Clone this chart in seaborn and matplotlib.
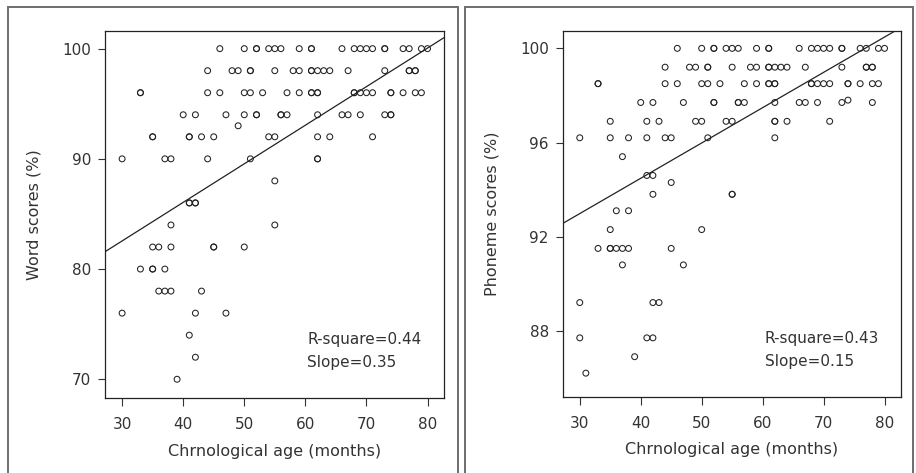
import numpy as np
import pandas as pd
import seaborn as sns
import matplotlib
matplotlib.use('Agg')
import matplotlib.pyplot as plt
from matplotlib.patches import Rectangle

# --- Word scores ---
word_age = [46, 50, 52, 52, 54, 55, 56, 59, 61, 61, 66, 68, 69, 70, 71, 73, 73, 76, 77, 79, 80,
            44, 48, 49, 51, 51, 55, 58, 59, 61, 61, 62, 63, 64, 67, 73, 77, 77, 78, 78,
            33, 33, 44, 46, 50, 51, 53, 57, 59, 61, 61, 62, 62, 68, 68, 69, 70, 71, 74, 74, 76, 78, 79,
            40, 42, 47, 50, 52, 52, 56, 56, 57, 62, 66, 67, 69, 73, 74, 74,
            49,
            35, 35, 41, 41, 43, 45, 54, 55, 62, 64, 71,
            30, 37, 38, 44, 51, 62, 62,
            55,
            41, 41, 42, 42,
            38, 55,
            35, 36, 38, 45, 45, 50,
            33, 35, 35, 37,
            36, 37, 38, 43,
            30, 42, 47,
            41, 42, 39]
word_score = [100] * 21 + [98] * 19 + [96] * 23 + [94] * 16 + [93] + [92] * 11 + [90] * 7 + \
             [88] + [86] * 4 + [84] * 2 + [82] * 6 + [80] * 4 + [78] * 4 + [76] * 3 + [74, 72, 70]

# --- Phoneme scores ---
phon_age = [46, 50, 52, 52, 54, 55, 56, 59, 61, 61, 66, 68, 69, 70, 71, 73, 73, 76, 77, 79, 80,
            44, 48, 49, 51, 51, 55, 58, 59, 61, 61, 62, 63, 64, 67, 73, 77, 77, 78, 78,
            33, 33, 44, 46, 50, 51, 53, 57, 59, 61, 61, 62, 62, 68, 68, 69, 70, 71, 74, 74, 76, 78, 79,
            40, 42, 47, 52, 52, 56, 56, 57, 62, 66, 67, 69, 73, 78, 74,
            35, 41, 43, 49, 50, 54, 55, 62, 62, 64, 71,
            30, 35, 38, 41, 44, 45, 51, 62,
            37, 41, 42, 45, 42, 55, 55, 36, 38, 35, 50,
            33, 35, 35, 36, 37, 38, 45,
            37, 47, 30, 42, 43, 30, 41, 42, 39, 31]
phon_score = [100] * 21 + [99.2] * 19 + [98.5] * 23 + [97.7] * 14 + [97.8] + [96.9] * 11 + \
             [96.2] * 8 + [95.4, 94.6, 94.6, 94.3, 93.8, 93.8, 93.8, 93.1, 93.1, 92.3, 92.3] + \
             [91.5] * 7 + [90.8] * 2 + [89.2] * 3 + [87.7] * 3 + [86.9, 86.2]

# fitted lines as reported in the figure (slope from the label, intercept)
word_slope, word_intercept = 0.35, 72.05
phon_slope, phon_intercept = 0.15, 88.48

word_df = pd.DataFrame({"age": word_age, "score": word_score})
phon_df = pd.DataFrame({"age": phon_age, "score": phon_score})

sns.set_theme(style="white")
plt.rcParams['font.family'] = ['DejaVu Sans']
text_col = "#333333"

fig = plt.figure(figsize=(9.16, 4.73), dpi=100)

# outer frames around each panel
for x0, x1 in [(8, 458), (465, 913)]:
    fig.patches.append(Rectangle((x0 / 916, -0.05), (x1 - x0) / 916, 1.05 - 7 / 473,
                                 transform=fig.transFigure, fill=False,
                                 edgecolor="#6e6e6e", linewidth=1.4))

panels = [
    (word_df, [105 / 916, 75 / 473, 339 / 916, 367 / 473], (68.3, 101.6), [70, 80, 90, 100],
     "Word scores (%)", "R-square=0.44", "Slope=0.35", word_slope, word_intercept),
    (phon_df, [562.7 / 916, 76.3 / 473, 338.3 / 916, 366 / 473], (85.2, 100.75), [88, 92, 96, 100],
     "Phoneme scores (%)", "R-square=0.43", "Slope=0.15", phon_slope, phon_intercept),
]

for df, rect, ylim, yticks, ylabel, r2, slope_txt, slope, icpt in panels:
    ax = fig.add_axes(rect)
    sns.scatterplot(data=df, x="age", y="score", ax=ax, marker="o", s=18,
                    facecolor="none", edgecolor="#222222", linewidth=0.75)
    ax.axline((0, icpt), slope=slope, color="#222222", linewidth=0.9)
    ax.set_xlim(27.2, 82.7)
    ax.set_ylim(*ylim)
    ax.set_xticks([30, 40, 50, 60, 70, 80])
    ax.set_yticks(yticks)
    ax.tick_params(axis="both", which="both", direction="out", width=0.8,
                   colors="#333333", labelsize=11, labelcolor=text_col,
                   bottom=True, left=True, top=False, right=False)
    ax.tick_params(axis="x", length=6, pad=8)
    ax.tick_params(axis="y", length=5, pad=5)
    for sp in ax.spines.values():
        sp.set_color("#222222")
        sp.set_linewidth(0.9)
    ax.set_xlabel("Chrnological age (months)", fontsize=11.5, color=text_col, labelpad=8)
    ax.set_ylabel(ylabel, fontsize=11.5, color=text_col, labelpad=15)
    ax.text(0.597, 0.16, r2, transform=ax.transAxes, fontsize=11, color=text_col, va="center")
    ax.text(0.597, 0.097, slope_txt, transform=ax.transAxes, fontsize=11, color=text_col, va="center")
    ax.grid(False)

fig.savefig("out.png", dpi=100)
